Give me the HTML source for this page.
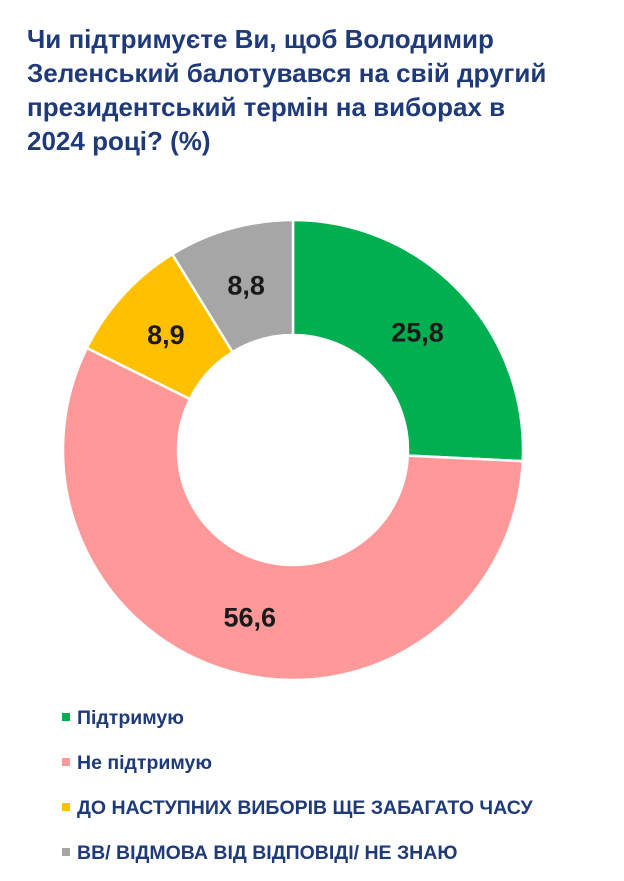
<!DOCTYPE html>
<html><head><meta charset="utf-8"><style>
body{margin:0;width:624px;height:881px;background:#fff;font-family:"Liberation Sans",Arial,sans-serif;overflow:hidden;position:relative}
#title{position:absolute;left:27px;top:22px;width:600px;font-size:26px;line-height:34px;font-weight:bold;color:#1F3A7A;margin:0;white-space:nowrap}
.leg{position:absolute;left:62px;font-size:19.5px;line-height:22px;font-weight:bold;color:#1F3A7A;white-space:nowrap}
.leg span{display:inline-block;width:8px;height:8px;margin-right:7px;vertical-align:3px}
</style></head><body>
<h1 id="title">Чи підтримуєте Ви, щоб Володимир<br>Зеленський балотувався на свій другий<br>президентський термін на виборах в<br>2024 році? (%)</h1>
<svg id="chart" width="624" height="700" style="position:absolute;left:0;top:0"></svg>
<div id="legend"></div>
<script>
const categories=["Підтримую","Не підтримую","ДО НАСТУПНИХ ВИБОРІВ ЩЕ ЗАБАГАТО ЧАСУ","ВВ/ ВІДМОВА ВІД ВІДПОВІДІ/ НЕ ЗНАЮ"];
const values=[25.8,56.6,8.9,8.8];
const labels=["25,8","56,6","8,9","8,8"];
const colors=["#00B050","#FF9999","#FFC000","#A6A6A6"];
const svg=document.getElementById('chart');const NS="http://www.w3.org/2000/svg";
const cx=293,cy=450,R=230,r=115;
const total=values.reduce((a,b)=>a+b,0);
function pt(a,rad){return [cx+rad*Math.sin(a),cy-rad*Math.cos(a)];}
let acc=0;
values.forEach((v,i)=>{
 const a0=acc/total*2*Math.PI;acc+=v;const a1=acc/total*2*Math.PI;
 const large=(a1-a0)>Math.PI?1:0;
 const p0=pt(a0,R),p1=pt(a1,R),q1=pt(a1,r),q0=pt(a0,r);
 const p=document.createElementNS(NS,'path');
 p.setAttribute('d',`M${p0[0]},${p0[1]}A${R},${R} 0 ${large} 1 ${p1[0]},${p1[1]}L${q1[0]},${q1[1]}A${r},${r} 0 ${large} 0 ${q0[0]},${q0[1]}Z`);
 p.setAttribute('fill',colors[i]);p.setAttribute('stroke','#fff');p.setAttribute('stroke-width','2.5');
 
 
 svg.appendChild(p);
 const m=pt((a0+a1)/2,172);
 const t=document.createElementNS(NS,'text');
 t.setAttribute('x',m[0]);t.setAttribute('y',m[1]+10);t.setAttribute('text-anchor','middle');
 t.setAttribute('font-size','27');t.setAttribute('font-weight','bold');t.setAttribute('fill','#1a1a1a');
 t.setAttribute('font-family','"Liberation Sans",Arial,sans-serif');
 t.textContent=labels[i];
 
 
 svg.appendChild(t);
});
const leg=document.getElementById('legend');
categories.forEach((c,i)=>{
 const d=document.createElement('div');d.className='leg';d.style.top=(707+i*45)+'px';
 
 
 const s=document.createElement('span');s.style.background=colors[i];
 
 
 d.appendChild(s);d.appendChild(document.createTextNode(c));leg.appendChild(d);
});
</script>
</body></html>
